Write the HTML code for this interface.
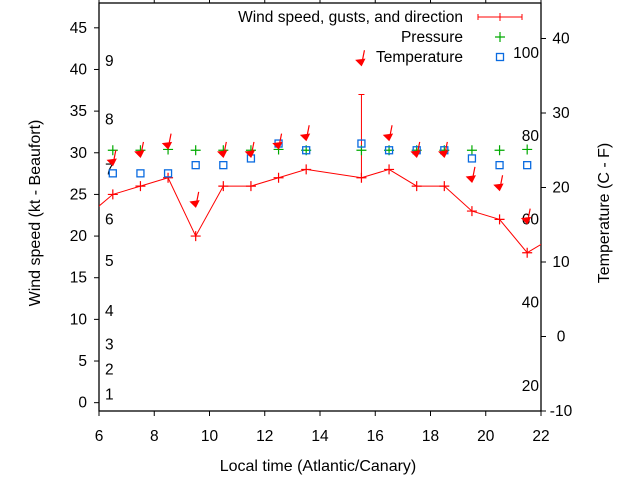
<!DOCTYPE html>
<html><head><meta charset="utf-8"><style>
body{margin:0;background:#fff}
svg{display:block;font-family:"Liberation Sans",sans-serif}
</style></head><body>
<svg id="c" width="640" height="480"></svg>
<script>
const hours=[6.5,7.5,8.5,9.5,10.5,11.5,12.5,13.5,15.5,16.5,17.5,18.5,19.5,20.5,21.5];
const wind=[25,26,27,20,26,26,27,28,27,28,26,26,23,22,18];
const lineHours=[5.5,6.5,7.5,8.5,9.5,10.5,11.5,12.5,13.5,15.5,16.5,17.5,18.5,19.5,20.5,21.5,22.5];
const lineWind=[22.2,25,26,27,20,26,26,27,28,27,28,26,26,23,22,18,20];
const gustHour=[15.5];
const gustVal=[37];
const pressure=[30.3,30.3,30.4,30.3,30.3,30.3,30.4,30.3,30.3,30.3,30.3,30.3,30.3,30.3,30.4];
const temperature=[21.9,21.9,21.9,23,23,23.9,25.9,25,25.9,25,25,25,23.9,23,23];
const arrowVal=[28.5,29.5,30.5,23.5,29.5,29.5,30.5,31.5,40.5,31.5,29.5,29.5,26.5,25.5,21.5];
const leftTicks=[0,5,10,15,20,25,30,35,40,45];
const rightTicks=[-10,0,10,20,30,40];
const xTicks=[6,8,10,12,14,16,18,20,22];
const beaufort=[["1",1],["2",4],["3",7],["4",11],["5",17],["6",22],["7",28],["8",34],["9",41]];
const fahr=[["20",2],["40",12],["60",22],["80",32],["100",42]];

const L=99,R=541,T=3,B=411;
const X=h=>L+(h-6)/16*(R-L);
const Y=v=>B-(v+1)*8.33;
const Y2=t=>B-(t+10)*7.45;
const s=document.getElementById('c');
const NS='http://www.w3.org/2000/svg';
function add(tag,attrs,parent){const e=document.createElementNS(NS,tag);for(const k in attrs)e.setAttribute(k,attrs[k]);(parent||s).appendChild(e);return e;}
function txt(x,y,t,anchor,size,extra){const e=add('text',Object.assign({x:x,y:y,'text-anchor':anchor||'middle','font-size':size||15.5,fill:'#000'},extra||{}));e.textContent=t;return e;}

const fr=add('rect',{x:L,y:T,width:R-L,height:B-T,fill:'none',stroke:'#000','stroke-width':1.3});


leftTicks.forEach(v=>{add('line',{x1:L-5,x2:L,y1:Y(v),y2:Y(v),stroke:'#000'});const t=txt(L-12,Y(v)+5,String(v),'end');});
rightTicks.forEach(v=>{add('line',{x1:R,x2:R+5,y1:Y2(v),y2:Y2(v),stroke:'#000'});const t=txt(R+20,Y2(v)+5,String(v),'middle');});
xTicks.forEach(v=>{add('line',{x1:X(v),x2:X(v),y1:B,y2:B+5,stroke:'#000'});add('line',{x1:X(v),x2:X(v),y1:T,y2:T-5,stroke:'#000'});const t=txt(X(v),B+30,String(v),'middle');});
beaufort.forEach(b=>{const t=txt(105,Y(b[1])+5,b[0],'start');});
fahr.forEach(f=>{const t=txt(539,Y(f[1])+5,f[0],'end');});

let t=txt(318,471,'Local time (Atlantic/Canary)','middle',16);
t=txt(0,0,'Wind speed (kt - Beaufort)','middle',16,{transform:'translate(40,213) rotate(-90)'});
t=txt(0,0,'Temperature (C - F)','middle',16,{transform:'translate(609,213) rotate(-90)'});

const defs=add('defs',{});const cp=add('clipPath',{id:'cp'},defs);add('rect',{x:L,y:T,width:R-L,height:B-T},cp);
const g=add('g',{'clip-path':'url(#cp)'});
const wl=add('polyline',{points:lineHours.map((h,i)=>X(h)+','+Y(lineWind[i])).join(' '),fill:'none',stroke:'#f00','stroke-width':1},g);


function plus(x,y,c,n){const p=add('path',{d:`M${x-5},${y}h10M${x},${y-5}v10`,stroke:c,'stroke-width':1.2},g);}
hours.forEach((h,i)=>plus(X(h),Y(wind[i]),'#f00','wind-point'));
gustHour.forEach((h,i)=>{const idx=hours.indexOf(h);const e=add('path',{d:`M${X(h)},${Y(wind[idx])}V${Y(gustVal[i])}M${X(h)-3},${Y(gustVal[i])}h6`,stroke:'#f00','stroke-width':1},g);});
hours.forEach((h,i)=>plus(X(h),Y(pressure[i]),'#0a0','pressure-point'));
hours.forEach((h,i)=>{const r=add('rect',{x:X(h)-3.5,y:Y2(temperature[i])-3.5,width:7,height:7,fill:'none',stroke:'#0a6be0','stroke-width':1.3},g);});
hours.forEach((h,i)=>{const x=X(h),y=Y(arrowVal[i]);const a=add('path',{d:`M${x+3},${y-15}L${x},${y}M${x-5},${y-5}L${x},${y}L${x+3},${y-6}Z`,stroke:'#f00',fill:'#f00','stroke-width':1.2},g);});

t=txt(463,22,'Wind speed, gusts, and direction','end');
add('path',{d:'M478,17h44M478,14v6M522,14v6M500,13v8',stroke:'#f00','stroke-width':1});
t=txt(463,42,'Pressure','end');
add('path',{d:'M495,37h10M500,32v10',stroke:'#0a0','stroke-width':1.2});
t=txt(463,62,'Temperature','end');
add('rect',{x:496.5,y:53.5,width:7,height:7,fill:'none',stroke:'#0a6be0','stroke-width':1.3});
</script>
</body></html>
